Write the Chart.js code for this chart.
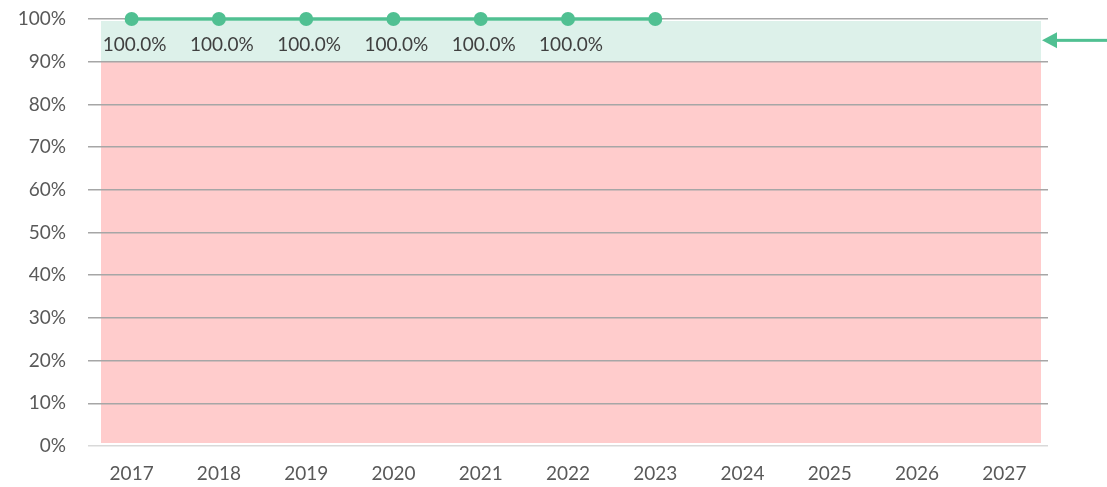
<!DOCTYPE html>
<html>
<head>
    <title>Target chart</title>
    <script src="https://cdn.jsdelivr.net/npm/chart.js"></script>
    <style>
        html, body { margin: 0; padding: 0; background: #fff; }
        .chart-container { width: 1107px; height: 487px; }
    </style>
</head>
<body>
    <div class="chart-container">
        <canvas id="rateChart"></canvas>
    </div>

    <script>
        // chart data
        var years = ['2017', '2018', '2019', '2020', '2021', '2022', '2023', '2024', '2025', '2026', '2027'];
        var rates = [100, 100, 100, 100, 100, 100, 100, null, null, null, null];
        var rateLabels = ['100.0%', '100.0%', '100.0%', '100.0%', '100.0%', '100.0%', null, null, null, null, null];
        var yTicks = [0, 10, 20, 30, 40, 50, 60, 70, 80, 90, 100];
        var targetBand = [90, 100];   // green zone
        var belowBand = [0, 90];      // red zone
        var arrowValue = 95;

        var green = 'rgb(80,192,146)';
        var fontFamily = "'Gill Sans', 'Gill Sans MT', Lato, sans-serif";

        var bandsPlugin = {
            id: 'bands',
            beforeDraw: function(chart) {
                var ctx = chart.ctx, y = chart.scales.y, a = chart.chartArea;
                var left = a.left + 13, right = a.right - 7;
                ctx.save();
                ctx.fillStyle = 'rgb(255,204,204)';
                var t = y.getPixelForValue(belowBand[1]), b = y.getPixelForValue(belowBand[0]);
                ctx.fillRect(left, t, right - left, b - t - 3);
                ctx.fillStyle = 'rgb(221,241,234)';
                t = y.getPixelForValue(targetBand[1]); b = y.getPixelForValue(targetBand[0]);
                ctx.fillRect(left, t + 2, right - left, b - t - 2);
                ctx.restore();
            },
            afterDatasetsDraw: function(chart) {
                var ctx = chart.ctx, meta = chart.getDatasetMeta(0);
                ctx.save();
                ctx.font = '19px ' + fontFamily;
                ctx.fillStyle = '#404040';
                ctx.textAlign = 'center';
                ctx.textBaseline = 'middle';
                meta.data.forEach(function(pt, i) {
                    if (rateLabels[i]) ctx.fillText(rateLabels[i], pt.x + 3, pt.y + 26);
                });
                // target arrow on the right
                var ay = chart.scales.y.getPixelForValue(arrowValue);
                var tip = chart.chartArea.right - 6;
                ctx.fillStyle = green;
                ctx.fillRect(tip + 12, ay - 1.5, chart.width - tip - 12, 3);
                ctx.beginPath();
                ctx.moveTo(tip, ay);
                ctx.lineTo(tip + 15, ay - 8);
                ctx.lineTo(tip + 15, ay + 8);
                ctx.closePath();
                ctx.fill();
                ctx.restore();
            }
        };

        var ctx1 = document.getElementById('rateChart').getContext('2d');
        var rateChart = new Chart(ctx1, {
            type: 'line',
            data: {
                labels: years,
                datasets: [{
                    data: rates,
                    borderColor: green,
                    backgroundColor: green,
                    borderWidth: 3.5,
                    pointRadius: 7,
                    pointHoverRadius: 7,
                    pointBackgroundColor: green,
                    pointBorderWidth: 0,
                    clip: false,
                    spanGaps: false
                }]
            },
            options: {
                responsive: true,
                maintainAspectRatio: false,
                animation: false,
                layout: { padding: { top: 19, right: 59, bottom: 0, left: 0 } },
                plugins: { legend: { display: false }, tooltip: { enabled: false } },
                scales: {
                    x: {
                        offset: true,
                        grid: { display: false },
                        border: { display: false },
                        ticks: { color: '#595959', font: { family: fontFamily, size: 19 }, padding: 8 },
                        afterFit: function(s) { s.height = 41; }
                    },
                    y: {
                        min: 0,
                        max: 100,
                        afterBuildTicks: function(s) { s.ticks = yTicks.map(function(v) { return { value: v }; }); },
                        grid: {
                            drawTicks: false,
                            lineWidth: 1.5,
                            color: function(c) { return c.tick && c.tick.value === 0 ? '#d9d9d9' : '#a6a6a6'; }
                        },
                        border: { display: false },
                        ticks: {
                            color: '#595959',
                            font: { family: fontFamily, size: 19 },
                            padding: 22,
                            callback: function(v) { return v + '%'; }
                        },
                        afterFit: function(s) { s.width = 88; s.paddingTop = 0; s.paddingBottom = 0; }
                    }
                }
            },
            plugins: [bandsPlugin]
        });
    </script>
</body>
</html>
